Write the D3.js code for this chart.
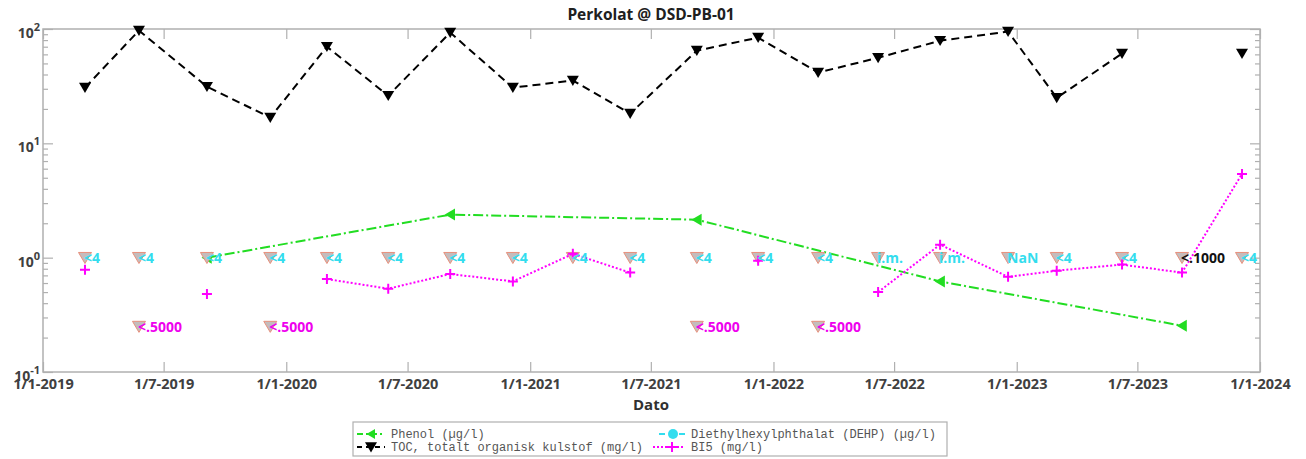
<!DOCTYPE html>
<html>
<head>
<meta charset="utf-8">
<script src="https://cdn.jsdelivr.net/npm/d3@7"></script>
<style>
  body { margin: 0; background: #fff; }
  svg { display: block; }
  .tick text { font-family: "Open Sans", sans-serif; font-weight: 700; fill: #404040; }
</style>
</head>
<body>
<div id="chart"></div>
<script>
// sampling dates (all series share them)
var sampleDates = ['2019-03-05', '2019-05-25', '2019-09-04', '2019-12-08', '2020-03-02', '2020-06-02',
  '2020-09-03', '2020-12-06', '2021-03-06', '2021-05-31', '2021-09-08', '2021-12-09', '2022-03-09',
  '2022-06-07', '2022-09-08', '2022-12-19', '2023-03-02', '2023-06-08', '2023-09-06', '2023-12-05'];
// TOC, totalt organisk kulstof (mg/l)
var tocValues = [30.7, 97, 31.3, 16.8, 70, 26.1, 93, 30.7, 35.4, 18.2, 64.7, 84, 41.6, 56, 79, 95, 25, 61, null, 61];
// BI5 (mg/l)
var bi5Values = [0.785, null, 0.48, null, 0.65, 0.535, 0.72, 0.62, 1.08, 0.74, null, 0.94, null, 0.50, 1.3, 0.68, 0.77, 0.87, 0.74, 5.4];
// Phenol (ug/l), only some dates
var phenolDates = ['2019-09-04', '2020-09-03', '2021-09-08', '2022-09-08', '2023-09-06'];
var phenolValues = [1.0, 2.38, 2.15, 0.62, 0.254];
// DEHP: all below limit, label per date
var dehpLabels = ['<4', '<4', '<4', '<4', '<4', '<4', '<4', '<4', '<4', '<4', '<4', '<4', '<4',
  'i.m.', 'i.m.', 'NaN', '<4', '<4', null, '<4'];
var dehpMarkerValue = 1;
// BI5 below detection limit
var bi5LimitIdx = [1, 3, 10, 12];
var bi5LimitLabel = '<.5000';
var bi5LimitValue = 0.25;
// TOC flagged
var tocLimitIdx = [18];
var tocLimitLabel = '<.1000';
// axis ticks
var xTickDates = ['2019-01-01', '2019-07-01', '2020-01-01', '2020-07-01', '2021-01-01', '2021-07-01',
  '2022-01-01', '2022-07-01', '2023-01-01', '2023-07-01', '2024-01-01'];
var yMajor = [0.1, 1, 10, 100];
var yMinor = [0.2, 0.3, 0.4, 0.5, 0.6, 0.7, 0.8, 0.9, 2, 3, 4, 5, 6, 7, 8, 9, 20, 30, 40, 50, 60, 70, 80, 90];
var yExp = ['-1', '0', '1', '2'];

(function drawChart() {
  var parse = d3.utcParse('%Y-%m-%d');
  var W = 1306, H = 459;
  var pL = 43, pR = 1260, pT = 29, pB = 372;

  var svg = d3.select('#chart').append('svg').attr('width', W).attr('height', H);

  var x = d3.scaleUtc().domain([parse('2019-01-01'), parse('2024-01-01')]).range([pL, pR]);
  var y = d3.scaleLog().domain([0.1, 100]).range([pB, pT]);

  var axisCol = '#b0b0b0';

  // box
  svg.append('rect').attr('x', pL).attr('y', pT).attr('width', pR - pL).attr('height', pB - pT)
    .attr('fill', 'none').attr('stroke', axisCol).attr('stroke-width', 1.5);

  function fmtDate(d) {
    return d.getUTCDate() + '/' + (d.getUTCMonth() + 1) + '-' + d.getUTCFullYear();
  }

  var xt = xTickDates.map(parse);
  var gxb = svg.append('g').attr('transform', 'translate(0,' + pB + ')')
    .call(d3.axisBottom(x).tickValues(xt).tickSizeInner(-10).tickSizeOuter(0).tickPadding(7).tickFormat(fmtDate));
  var gxt = svg.append('g').attr('transform', 'translate(0,' + pT + ')')
    .call(d3.axisTop(x).tickValues(xt).tickSizeInner(-10).tickSizeOuter(0).tickFormat(''));
  [gxb, gxt].forEach(function (g) {
    g.select('.domain').remove();
    g.selectAll('line').attr('stroke', axisCol).attr('stroke-width', 1.2);
  });
  gxb.selectAll('text').attr('font-size', 14.5);

  function yTicks(axis, vals, size, tx) {
    var g = svg.append('g').attr('transform', 'translate(' + tx + ',0)')
      .call(axis(y).tickValues(vals).tickSizeInner(-size).tickSizeOuter(0).tickFormat(''));
    g.select('.domain').remove();
    g.selectAll('line').attr('stroke', axisCol).attr('stroke-width', 1.2);
  }
  yTicks(d3.axisLeft, yMajor, 10, pL);
  yTicks(d3.axisLeft, yMinor, 5, pL);
  yTicks(d3.axisRight, yMajor, 10, pR);
  yTicks(d3.axisRight, yMinor, 5, pR);

  // y labels 10^n
  var yl = svg.append('g').selectAll('text').data(yMajor).enter().append('text')
    .attr('x', 40).attr('y', function (d) { return y(d) + 9; })
    .attr('text-anchor', 'end')
    .style('font-family', '"Open Sans", sans-serif').style('font-weight', 700)
    .attr('fill', '#404040').attr('font-size', 14);
  yl.append('tspan').text('10');
  yl.append('tspan').attr('dy', -7).attr('font-size', 11).text(function (d, i) { return yExp[i]; });

  // title and x label
  svg.append('text').attr('x', 651).attr('y', 20).attr('text-anchor', 'middle')
    .style('font-family', '"Open Sans", sans-serif').style('font-weight', 700)
    .attr('font-size', 15.5).attr('fill', '#202020').text('Perkolat @ DSD-PB-01');
  svg.append('text').attr('x', 651).attr('y', 410).attr('text-anchor', 'middle')
    .style('font-family', '"Open Sans", sans-serif').style('font-weight', 700)
    .attr('font-size', 15).attr('fill', '#303030').text('Dato');

  var dates = sampleDates.map(parse);

  function drawLine(xs, vals, color, dash, width) {
    var pts = xs.map(function (d, i) { return { d: d, v: vals[i] }; });
    var line = d3.line().defined(function (p) { return p.v != null; })
      .x(function (p) { return x(p.d); }).y(function (p) { return y(p.v); });
    svg.append('path').datum(pts).attr('d', line).attr('fill', 'none')
      .attr('stroke', color).attr('stroke-width', width).attr('stroke-dasharray', dash);
    return pts.filter(function (p) { return p.v != null; });
  }

  function triDown(s) { return 'M' + (-s) + ',' + (-s * 0.8) + 'L' + s + ',' + (-s * 0.8) + 'L0,' + (s * 0.9) + 'Z'; }
  function triLeft(s) { return 'M' + (-s * 0.9) + ',0L' + (s * 0.8) + ',' + (-s) + 'L' + (s * 0.8) + ',' + s + 'Z'; }
  function plus(s) { return 'M' + (-s) + ',0H' + s + 'M0,' + (-s) + 'V' + s; }
  function place(p) { return 'translate(' + x(p.d) + ',' + y(p.v) + ')'; }

  // phenol
  var phPts = drawLine(phenolDates.map(parse), phenolValues, '#22dd22', '10,3,2,3', 2);
  svg.append('g').selectAll('path').data(phPts).enter().append('path')
    .attr('transform', place).attr('d', triLeft(6)).attr('fill', '#22dd22');

  // TOC
  var tocPts = drawLine(dates, tocValues, '#000', '8,5', 2);
  svg.append('g').selectAll('path').data(tocPts).enter().append('path')
    .attr('transform', place).attr('d', triDown(6)).attr('fill', '#000');

  // limit markers (grey triangles)
  var limits = [];
  dates.forEach(function (d) { limits.push({ d: d, v: dehpMarkerValue }); });
  bi5LimitIdx.forEach(function (i) { limits.push({ d: dates[i], v: bi5LimitValue }); });
  svg.append('g').selectAll('path').data(limits).enter().append('path')
    .attr('transform', place).attr('d', triDown(6.5))
    .attr('fill', '#c4bcbc').attr('stroke', '#e8907c').attr('stroke-width', 1);

  // BI5
  var biPts = drawLine(dates, bi5Values, '#ff00ff', '2,2', 2);
  svg.append('g').selectAll('path').data(biPts).enter().append('path')
    .attr('transform', place).attr('d', plus(5)).attr('stroke', '#ff00ff').attr('stroke-width', 2);

  // labels
  var labs = [];
  dates.forEach(function (d, i) {
    if (dehpLabels[i] != null) labs.push({ d: d, v: dehpMarkerValue, t: dehpLabels[i], c: '#33ddee' });
  });
  bi5LimitIdx.forEach(function (i) { labs.push({ d: dates[i], v: bi5LimitValue, t: bi5LimitLabel, c: '#ee00ee' }); });
  tocLimitIdx.forEach(function (i) { labs.push({ d: dates[i], v: dehpMarkerValue, t: tocLimitLabel, c: '#111' }); });
  svg.append('g').selectAll('text').data(labs).enter().append('text')
    .attr('x', function (p) { return x(p.d) - 1; })
    .attr('y', function (p) { return y(p.v) + 5; })
    .style('font-family', '"Open Sans", sans-serif').style('font-weight', 700)
    .attr('font-size', 14).attr('fill', function (p) { return p.c; })
    .text(function (p) { return p.t; });

  // legend
  var lg = svg.append('g');
  lg.append('rect').attr('x', 353).attr('y', 422).attr('width', 594).attr('height', 34)
    .attr('fill', '#fff').attr('stroke', '#b0b0b0').attr('stroke-width', 1.2);
  var legendItems = [
    { t: 'Phenol (\u00b5g/l)', c: '#22dd22', dash: '6,3,2,3', x1: 357, x2: 385, mx: 371, ty: 434, tx: 391, m: triLeft(5), fill: true },
    { t: 'TOC, totalt organisk kulstof (mg/l)', c: '#000', dash: '5,4', x1: 357, x2: 385, mx: 371, ty: 447, tx: 391, m: triDown(6), fill: true },
    { t: 'Diethylhexylphthalat (DEHP) (\u00b5g/l)', c: '#33ddee', dash: '6,4', x1: 659, x2: 685, mx: 673, ty: 434, tx: 691, m: null, fill: true },
    { t: 'BI5 (mg/l)', c: '#ff00ff', dash: '2,2', x1: 653, x2: 685, mx: 672, ty: 447, tx: 691, m: plus(5), fill: false }
  ];
  legendItems.forEach(function (it) {
    lg.append('line').attr('x1', it.x1).attr('x2', it.x2).attr('y1', it.ty).attr('y2', it.ty)
      .attr('stroke', it.c).attr('stroke-width', 2).attr('stroke-dasharray', it.dash);
    if (it.m) {
      var mk = lg.append('path').attr('transform', 'translate(' + it.mx + ',' + it.ty + ')').attr('d', it.m);
      if (it.fill) mk.attr('fill', it.c); else mk.attr('stroke', it.c).attr('stroke-width', 2);
    } else {
      lg.append('circle').attr('cx', it.mx).attr('cy', it.ty).attr('r', 5).attr('fill', it.c);
    }
    lg.append('text').attr('x', it.tx).attr('y', it.ty + 4)
      .style('font-family', '"Liberation Mono", monospace').attr('font-size', 12)
      .attr('fill', '#555').text(it.t);
  });
})();
</script>
</body>
</html>
